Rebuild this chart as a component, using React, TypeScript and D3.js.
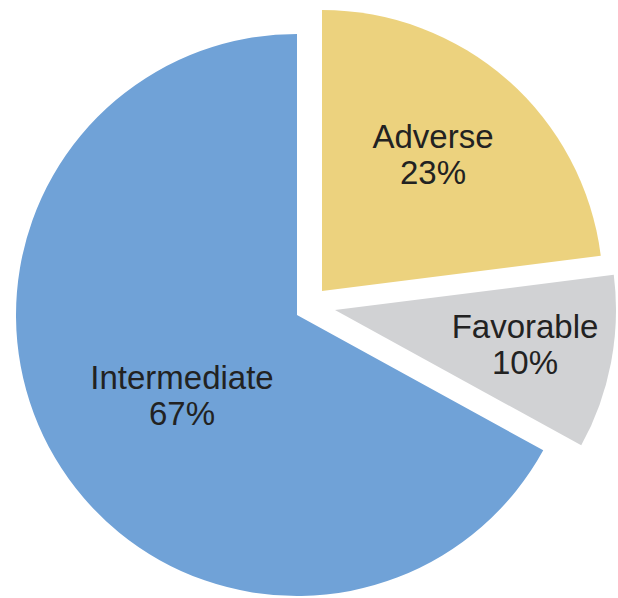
import React from "react";
import * as d3 from "d3";

const categories = ["Adverse", "Favorable", "Intermediate"];
const values = [23, 10, 67];
const labels = ["23%", "10%", "67%"];

const colors = ["#ecd27e", "#d1d2d4", "#70a2d7"];
// explode offsets (layout)
const explode = [
  [25, -24],
  [38, -5],
  [0, 0],
];
// label centre positions relative to the pie centre (layout)
const labelPos = [
  [136, -167],
  [228, 23],
  [-115, 74],
];

const W = 618;
const H = 598;
const CX = 297;
const CY = 315;
const R = 281;

export default function App() {
  const pie = d3
    .pie<number>()
    .sort(null)
    .value((d) => d)
    .startAngle(0)
    .endAngle(2 * Math.PI);
  const arcs = pie(values);
  const arc = d3.arc<d3.PieArcDatum<number>>().innerRadius(0).outerRadius(R);

  return (
    <svg
      width={W}
      height={H}
      style={{ position: "absolute", left: 0, top: 0, background: "#fff" }}
    >
      <g transform={`translate(${CX},${CY})`}>
        {arcs.map((a, i) => (
          <g key={categories[i]} transform={`translate(${explode[i][0]},${explode[i][1]})`}>
            <path d={arc(a) || ""} fill={colors[i]} />
          </g>
        ))}
        {arcs.map((a, i) => (
          <text
            key={"t" + categories[i]}
            x={labelPos[i][0]}
            y={labelPos[i][1]}
            textAnchor="middle"
            fontFamily="'Liberation Sans', Arial, sans-serif"
            fontSize={33}
            fill="#222"
          >
            <tspan x={labelPos[i][0]} dy={0}>
              {categories[i]}
            </tspan>
            <tspan x={labelPos[i][0]} dy={36}>
              {labels[i]}
            </tspan>
          </text>
        ))}
      </g>
    </svg>
  );
}
